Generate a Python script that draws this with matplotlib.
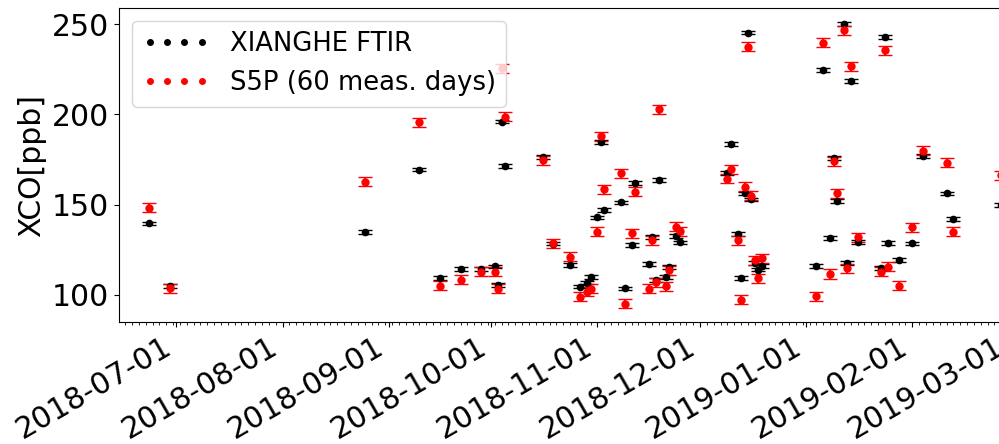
import datetime as dt
import matplotlib
matplotlib.use("Agg")
import matplotlib.pyplot as plt
import matplotlib.dates as mdates
from matplotlib.lines import Line2D

# measurement days (daily means)
dias = [
    "2018-06-23", "2018-06-29", "2018-08-25", "2018-09-10", "2018-09-16",
    "2018-09-22", "2018-09-28", "2018-10-02", "2018-10-03", "2018-10-04",
    "2018-10-05", "2018-10-16", "2018-10-19", "2018-10-24", "2018-10-27",
    "2018-10-29", "2018-10-30", "2018-11-01", "2018-11-02", "2018-11-03",
    "2018-11-08", "2018-11-09", "2018-11-11", "2018-11-12", "2018-11-16",
    "2018-11-17", "2018-11-18", "2018-11-19", "2018-11-21", "2018-11-22",
    "2018-11-24", "2018-11-25", "2018-12-09", "2018-12-10", "2018-12-12",
    "2018-12-13", "2018-12-14", "2018-12-15", "2018-12-16", "2018-12-17",
    "2018-12-18", "2018-12-19", "2019-01-04", "2019-01-06", "2019-01-08",
    "2019-01-09", "2019-01-10", "2019-01-12", "2019-01-13", "2019-01-14",
    "2019-01-16", "2019-01-23", "2019-01-24", "2019-01-25", "2019-01-28",
    "2019-02-01", "2019-02-04", "2019-02-11", "2019-02-13", "2019-02-27",
]

xco_ftir = [
    139.6, 105.1, 135.0, 169.5, 109.5, 114.3, 114.5, 115.8, 105.5, 196.1,
    171.3, 176.5, 128.5, 116.6, 104.6, 106.8, 109.8, 143.0, 184.8, 147.0,
    151.3, 103.6, 127.6, 162.1, 117.0, 132.2, 108.3, 163.6, 110.1, 115.6,
    132.8, 129.1, 167.5, 183.6, 133.7, 109.5, 156.3, 245.4, 152.9, 117.7,
    114.0, 116.0, 116.0, 224.8, 131.7, 176.0, 152.0, 250.0, 117.8, 218.4,
    129.5, 115.0, 243.0, 128.9, 119.3, 128.6, 177.1, 156.3, 142.0, 149.8,
]

xco_s5p = [
    148.3, 103.6, 162.7, 195.6, 105.1, 108.3, 112.8, 112.8, 103.5, 225.5,
    198.7, 174.7, 128.6, 121.2, 99.0, 101.8, 103.3, 135.0, 188.0, 158.5,
    167.3, 95.0, 134.1, 157.1, 103.3, 130.4, 107.0, 202.9, 104.9, 113.8,
    137.8, 135.4, 164.3, 169.6, 130.4, 97.2, 159.9, 237.6, 154.9, 119.3,
    109.2, 120.3, 99.2, 239.8, 111.6, 174.0, 156.3, 246.7, 114.7, 226.7,
    131.9, 112.8, 235.6, 115.6, 105.0, 137.4, 179.9, 173.2, 135.0, 166.4,
]

err_ftir = 1.0
err_s5p = 2.5

datas = [dt.datetime.strptime(d, "%Y-%m-%d") for d in dias]

fs = 21.5
fig = plt.figure(figsize=(9.99, 4.44), dpi=100)
ax = fig.add_axes([119 / 999, 122 / 444, 0.9037, 314 / 444])

ax.errorbar(datas, xco_ftir, yerr=err_ftir, fmt="o", color="black",
            markersize=4.5, capsize=5)
ax.errorbar(datas, xco_s5p, yerr=err_s5p, fmt="o", color="red",
            markersize=5, capsize=5)

ax.set_xlim(dt.datetime(2018, 6, 14, 5), dt.datetime(2019, 3, 5))
ax.set_ylim(85, 259)
ax.set_yticks([100, 150, 200, 250])

ax.xaxis.set_major_locator(mdates.MonthLocator())
ax.xaxis.set_major_formatter(mdates.DateFormatter("%Y-%m-%d"))
ax.xaxis.set_minor_locator(mdates.DayLocator(interval=2))
ax.tick_params(labelsize=fs)
plt.setp(ax.get_xticklabels(), rotation=30, ha="right")

ax.set_ylabel("XCO[ppb]", fontsize=fs)

handles = [
    Line2D([], [], marker="o", ls="none", color="black", markersize=4),
    Line2D([], [], marker="o", ls="none", color="red", markersize=4),
]
ax.legend(handles, ["XIANGHE FTIR", "S5P (60 meas. days)"], loc="upper left",
          fontsize=18.6, numpoints=4, handlelength=2.6)

fig.savefig("out.png", dpi=100)
